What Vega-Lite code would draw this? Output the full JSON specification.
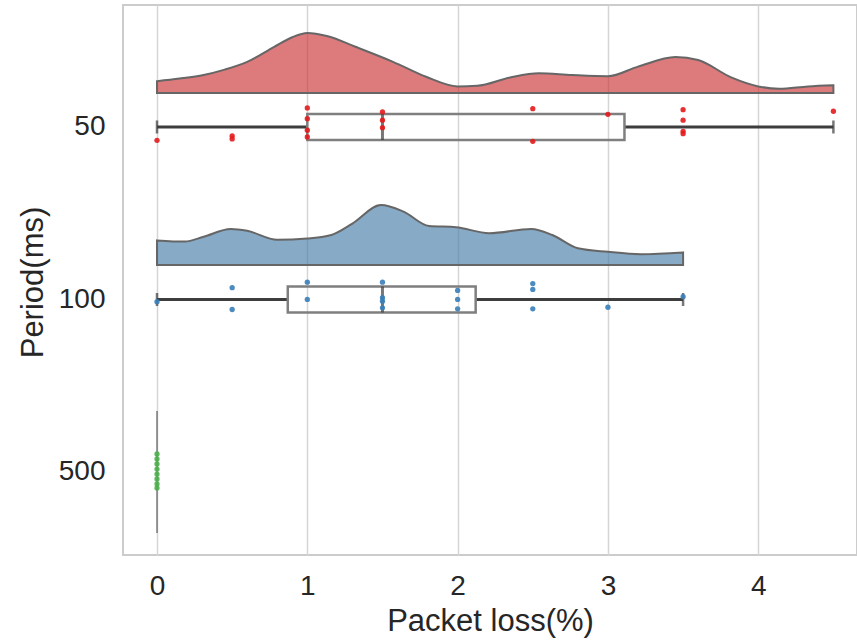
{
  "$schema": "https://vega.github.io/schema/vega-lite/v6.json",
  "width": 734,
  "height": 550,
  "autosize": {"type": "none"},
  "padding": {"left": 123, "top": 5, "right": 0, "bottom": 88},
  "config": {
    "view": {"stroke": "#cccccc", "strokeWidth": 2},
    "font": "Liberation Sans",
    "axis": {"labelFont": "Liberation Sans", "titleFont": "Liberation Sans", "labelColor": "#262626", "titleColor": "#262626", "titleFontWeight": "normal"}
  },
  "datasets": {
    "dens": [
      {"period": "50", "loss": 0, "density": 0.197},
      {"period": "50", "loss": 0.15, "density": 0.24},
      {"period": "50", "loss": 0.31, "density": 0.30},
      {"period": "50", "loss": 0.45, "density": 0.39},
      {"period": "50", "loss": 0.6, "density": 0.52},
      {"period": "50", "loss": 0.78, "density": 0.77},
      {"period": "50", "loss": 0.9, "density": 0.93},
      {"period": "50", "loss": 1.0, "density": 1.0},
      {"period": "50", "loss": 1.13, "density": 0.95},
      {"period": "50", "loss": 1.32, "density": 0.77},
      {"period": "50", "loss": 1.57, "density": 0.52},
      {"period": "50", "loss": 1.79, "density": 0.27},
      {"period": "50", "loss": 2.0, "density": 0.11},
      {"period": "50", "loss": 2.13, "density": 0.12},
      {"period": "50", "loss": 2.35, "density": 0.26},
      {"period": "50", "loss": 2.54, "density": 0.33},
      {"period": "50", "loss": 2.76, "density": 0.30},
      {"period": "50", "loss": 3.0, "density": 0.28},
      {"period": "50", "loss": 3.2, "density": 0.44},
      {"period": "50", "loss": 3.45, "density": 0.60},
      {"period": "50", "loss": 3.6, "density": 0.55},
      {"period": "50", "loss": 3.82, "density": 0.26},
      {"period": "50", "loss": 4.0, "density": 0.11},
      {"period": "50", "loss": 4.14, "density": 0.07},
      {"period": "50", "loss": 4.33, "density": 0.11},
      {"period": "50", "loss": 4.5, "density": 0.13},
      {"period": "100", "loss": 0, "density": 0.41},
      {"period": "100", "loss": 0.185, "density": 0.39},
      {"period": "100", "loss": 0.31, "density": 0.47},
      {"period": "100", "loss": 0.49, "density": 0.60},
      {"period": "100", "loss": 0.6, "density": 0.57},
      {"period": "100", "loss": 0.8, "density": 0.42},
      {"period": "100", "loss": 1.0, "density": 0.44},
      {"period": "100", "loss": 1.16, "density": 0.50},
      {"period": "100", "loss": 1.3, "density": 0.69},
      {"period": "100", "loss": 1.49, "density": 1.0},
      {"period": "100", "loss": 1.64, "density": 0.89},
      {"period": "100", "loss": 1.81, "density": 0.65},
      {"period": "100", "loss": 1.99, "density": 0.63},
      {"period": "100", "loss": 2.21, "density": 0.53},
      {"period": "100", "loss": 2.49, "density": 0.60},
      {"period": "100", "loss": 2.63, "density": 0.50},
      {"period": "100", "loss": 2.8, "density": 0.28},
      {"period": "100", "loss": 3.0, "density": 0.22},
      {"period": "100", "loss": 3.22, "density": 0.18},
      {"period": "100", "loss": 3.5, "density": 0.21}
    ],
    "box": [
      {"period": "50", "lo": 0, "q1": 1.0, "median": 1.5, "q3": 3.11, "hi": 4.5},
      {"period": "100", "lo": 0, "q1": 0.87, "median": 1.5, "q3": 2.12, "hi": 3.5}
    ],
    "single": [
      {"period": "500", "loss": 0}
    ],
    "pts": [
      {"period": "50", "loss": 0, "jitter": 0.077},
      {"period": "50", "loss": 0.5, "jitter": 0.052},
      {"period": "50", "loss": 0.5, "jitter": 0.069},
      {"period": "50", "loss": 1.0, "jitter": -0.11},
      {"period": "50", "loss": 1.0, "jitter": -0.048},
      {"period": "50", "loss": 1.0, "jitter": 0.019},
      {"period": "50", "loss": 1.0, "jitter": 0.058},
      {"period": "50", "loss": 1.5, "jitter": -0.087},
      {"period": "50", "loss": 1.5, "jitter": -0.039},
      {"period": "50", "loss": 1.5, "jitter": 0.004},
      {"period": "50", "loss": 2.5, "jitter": -0.106},
      {"period": "50", "loss": 2.5, "jitter": 0.083},
      {"period": "50", "loss": 3.0, "jitter": -0.073},
      {"period": "50", "loss": 3.5, "jitter": -0.1},
      {"period": "50", "loss": 3.5, "jitter": -0.039},
      {"period": "50", "loss": 3.5, "jitter": 0.025},
      {"period": "50", "loss": 3.5, "jitter": 0.039},
      {"period": "50", "loss": 4.5, "jitter": -0.091},
      {"period": "100", "loss": 0, "jitter": 0.013},
      {"period": "100", "loss": 0.5, "jitter": -0.068},
      {"period": "100", "loss": 0.5, "jitter": 0.058},
      {"period": "100", "loss": 1.0, "jitter": -0.1},
      {"period": "100", "loss": 1.0, "jitter": 0},
      {"period": "100", "loss": 1.5, "jitter": -0.1},
      {"period": "100", "loss": 1.5, "jitter": -0.01},
      {"period": "100", "loss": 1.5, "jitter": 0.01},
      {"period": "100", "loss": 1.5, "jitter": 0.048},
      {"period": "100", "loss": 2.0, "jitter": -0.052},
      {"period": "100", "loss": 2.0, "jitter": 0},
      {"period": "100", "loss": 2.0, "jitter": 0.054},
      {"period": "100", "loss": 2.5, "jitter": -0.092},
      {"period": "100", "loss": 2.5, "jitter": -0.058},
      {"period": "100", "loss": 2.5, "jitter": 0.054},
      {"period": "100", "loss": 3.0, "jitter": 0.045},
      {"period": "100", "loss": 3.5, "jitter": -0.016},
      {"period": "500", "loss": 0, "jitter": -0.104},
      {"period": "500", "loss": 0, "jitter": -0.075},
      {"period": "500", "loss": 0, "jitter": -0.046},
      {"period": "500", "loss": 0, "jitter": -0.017},
      {"period": "500", "loss": 0, "jitter": 0.012},
      {"period": "500", "loss": 0, "jitter": 0.04},
      {"period": "500", "loss": 0, "jitter": 0.069},
      {"period": "500", "loss": 0, "jitter": 0.092}
    ]
  },
  "resolve": {"scale": {"y": "independent"}, "axis": {"y": "independent"}},
  "layer": [
    {
      "encoding": {
        "y": {"field": "period", "type": "ordinal", "scale": {"type": "point", "domain": ["50", "100", "500"], "padding": 0.5942, "align": 0.595},
              "axis": {"title": "Period(ms)", "labelFontSize": 28, "titleFontSize": 31, "labelPadding": 18, "ticks": false, "domain": false, "grid": false, "titleX": -90, "titleY": 277, "titleAngle": -90, "titleBaseline": "middle"}}
      },
      "layer": [
        {
          "data": {"name": "box"},
          "mark": {"type": "rule", "stroke": "#3d3d3d", "strokeWidth": 3},
          "encoding": {
            "x": {"field": "lo", "type": "quantitative", "scale": {"domain": [-0.2262, 4.657], "nice": false, "zero": false},
                  "axis": {"values": [0, 1, 2, 3, 4], "format": "d", "title": "Packet loss(%)", "labelFontSize": 28, "titleFontSize": 31, "labelPadding": 17, "ticks": false, "domain": false, "grid": true, "gridColor": "#d5d5d5", "gridWidth": 1.5, "titleY": 75, "titleBaseline": "alphabetic"}},
            "x2": {"field": "q1"}
          }
        },
        {
          "data": {"name": "box"},
          "mark": {"type": "rule", "stroke": "#3d3d3d", "strokeWidth": 3},
          "encoding": {
            "x": {"field": "q3", "type": "quantitative"},
            "x2": {"field": "hi"}
          }
        },
        {
          "data": {"name": "box"},
          "mark": {"type": "tick", "orient": "vertical", "color": "#3d3d3d", "size": 13, "thickness": 2.5},
          "encoding": {"x": {"field": "lo", "type": "quantitative"}}
        },
        {
          "data": {"name": "box"},
          "mark": {"type": "tick", "orient": "vertical", "color": "#3d3d3d", "size": 13, "thickness": 2.5},
          "encoding": {"x": {"field": "hi", "type": "quantitative"}}
        },
        {
          "data": {"name": "box"},
          "mark": {"type": "bar", "fill": "transparent", "stroke": "#7f7f7f", "strokeWidth": 2.5, "size": 26, "orient": "horizontal"},
          "encoding": {
            "x": {"field": "q1", "type": "quantitative"},
            "x2": {"field": "q3"}
          }
        },
        {
          "data": {"name": "box"},
          "mark": {"type": "tick", "orient": "vertical", "color": "#3d3d3d", "size": 26, "thickness": 3},
          "encoding": {"x": {"field": "median", "type": "quantitative"}}
        },
        {
          "data": {"name": "single"},
          "mark": {"type": "tick", "orient": "vertical", "color": "#4a4a4a", "size": 122, "thickness": 1.5},
          "encoding": {"x": {"field": "loss", "type": "quantitative"}}
        },
        {
          "data": {"name": "pts"},
          "mark": {"type": "circle", "size": 28, "opacity": 0.9},
          "encoding": {
            "x": {"field": "loss", "type": "quantitative"},
            "yOffset": {"field": "jitter", "type": "quantitative", "scale": {"domain": [-1, 1], "range": [-173, 173]}},
            "color": {"field": "period", "type": "nominal", "scale": {"domain": ["50", "100", "500"], "range": ["#e41a1c", "#377eb8", "#4daf4a"]}, "legend": null}
          }
        }
      ]
    },
    {
      "data": {"name": "dens"},
      "transform": [{"filter": "datum.period === '50'"}],
      "mark": {"type": "area", "interpolate": "monotone", "fill": "#cb3335", "fillOpacity": 0.65, "stroke": "#666666", "strokeWidth": 2},
      "encoding": {
        "x": {"field": "loss", "type": "quantitative"},
        "y": {"field": "density", "type": "quantitative", "scale": {"domain": [0, 1], "range": [88, 28]}, "axis": null},
        "y2": {"datum": 0}
      }
    },
    {
      "data": {"name": "dens"},
      "transform": [{"filter": "datum.period === '100'"}],
      "mark": {"type": "area", "interpolate": "monotone", "fill": "#477ca8", "fillOpacity": 0.65, "stroke": "#666666", "strokeWidth": 2},
      "encoding": {
        "x": {"field": "loss", "type": "quantitative"},
        "y": {"field": "density", "type": "quantitative", "scale": {"domain": [0, 1], "range": [260, 200]}, "axis": null},
        "y2": {"datum": 0}
      }
    }
  ]
}
